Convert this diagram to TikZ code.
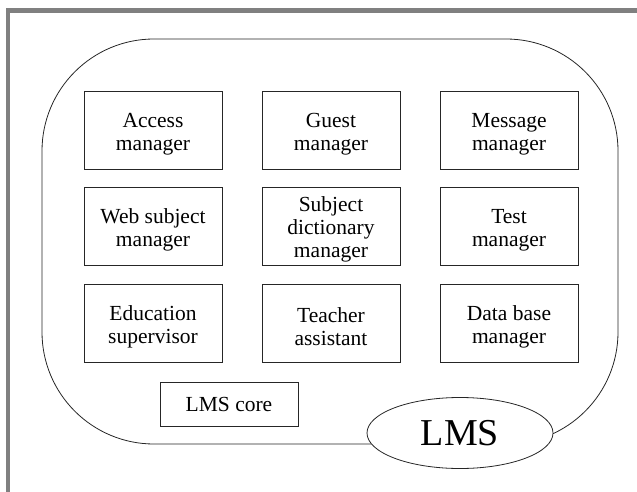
\documentclass[tikz,border=0pt]{standalone}
\usepackage{fontspec}
\setmainfont{Liberation Serif}
\usetikzlibrary{shapes.geometric}
\definecolor{framegray}{RGB}{128,128,128}
% extra headroom on a first line sets the text block a little low in its box
\newcommand\headroom{\rule{0pt}{22bp}}
\tikzset{
  plainbox/.style={draw=black!85, line width=0.8bp, minimum width=138bp,
    inner sep=0pt, align=center,
    font=\fontsize{21.5bp}{23bp}\selectfont},
  module/.style={plainbox, minimum height=78bp},
  corebox/.style={plainbox, minimum height=44bp},
  system/.style={draw=black!85, line width=0.8bp, fill=white, ellipse,
    minimum width=186bp, minimum height=71bp, inner sep=0pt,
    font=\fontsize{38bp}{42bp}\selectfont},
  hull/.style={draw=black!85, line width=0.8bp, rounded corners=112bp}
}
\begin{document}
\begin{tikzpicture}[x=1bp, y=-1bp]
\useasboundingbox (0,0) rectangle (637,492);
% page frame
\fill[framegray] (6,8) rectangle (637,13);
\fill[framegray] (6,8) rectangle (10,492);
% system boundary
\draw[hull] (42,39) rectangle (618,444);
% modules
\node[module] (access)  at (153,130) {\headroom Access\\manager};
\node[module] (guest)   at (331,130) {\headroom Guest\\manager};
\node[module] (message) at (509,130) {\headroom Message\\manager};
\node[module] (web)     at (153,226) {\headroom Web subject\\manager};
\node[module] (dict)    at (331,226) {\headroom Subject\\dictionary\\manager};
\node[module] (test)    at (509,226) {\headroom Test\\manager};
\node[module] (edu)     at (153,323) {\headroom Education\\supervisor};
\node[module] (teacher) at (331,323) {\headroom Teacher\\assistant};
\node[module] (db)      at (509,323) {\headroom Data base\\manager};
\node[corebox] (core)   at (229,404) {LMS core};
% system label
\node[system] (lms) at (460,433) {LMS};
\end{tikzpicture}
\end{document}
